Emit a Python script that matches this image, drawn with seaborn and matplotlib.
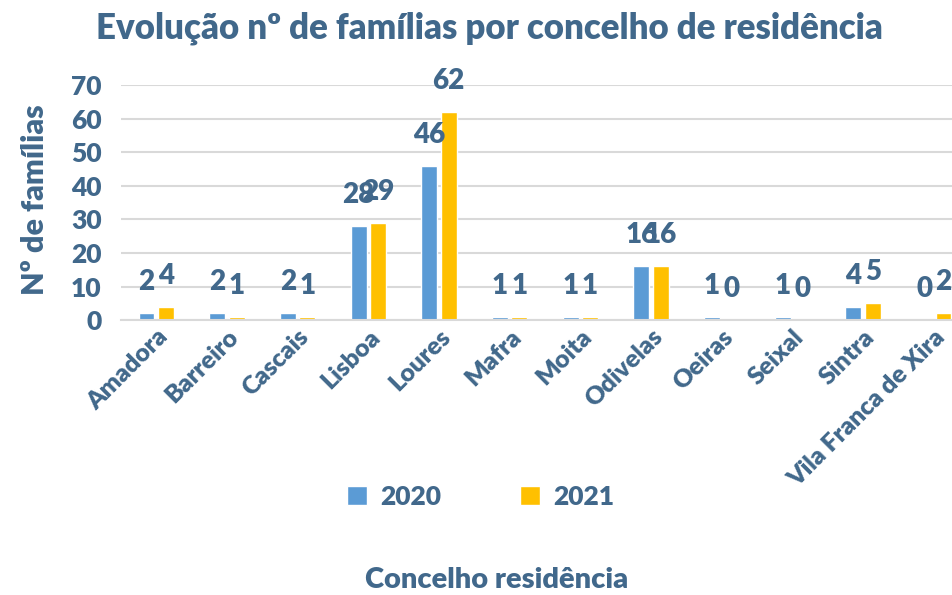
import pandas as pd
import seaborn as sns
import matplotlib.pyplot as plt

# Values
concelhos = ["Amadora", "Barreiro", "Cascais", "Lisboa", "Loures", "Mafra",
             "Moita", "Odivelas", "Oeiras", "Seixal", "Sintra", "Vila Franca de Xira"]
familias_2020 = [2, 2, 2, 28, 46, 1, 1, 16, 1, 1, 4, 0]
familias_2021 = [4, 1, 1, 29, 62, 1, 1, 16, 0, 0, 5, 2]
anos = ["2020", "2021"]

df = pd.DataFrame({
    "concelho": concelhos * 2,
    "ano": [anos[0]] * len(concelhos) + [anos[1]] * len(concelhos),
    "familias": familias_2020 + familias_2021,
})

text_col = "#41688B"
wt = "heavy"
sns.set_style("white")
plt.rcParams["font.family"] = ["Lato", "DejaVu Sans"]
plt.rcParams["font.weight"] = wt

fig = plt.figure(figsize=(9.52, 5.95), dpi=100)
ax = fig.add_axes([0.127, 0.462, 0.891, 0.395])

sns.barplot(data=df, x="concelho", y="familias", hue="ano",
            palette=["#5B9BD5", "#FFC000"], width=0.55, gap=0.18,
            saturation=1, ax=ax, legend=True)

for cont in ax.containers:
    ax.bar_label(cont, padding=13, fontsize=20, fontweight=wt, color=text_col)

ax.set_ylim(0, 70)
ax.set_yticks(range(0, 71, 10))
ax.yaxis.grid(True, color="#D9D9D9", linewidth=1.5)
ax.set_axisbelow(True)
for s in ["top", "right", "left"]:
    ax.spines[s].set_visible(False)
ax.spines["bottom"].set_color("#D9D9D9")
ax.spines["bottom"].set_linewidth(1.5)
ax.tick_params(axis="y", labelsize=19, labelcolor=text_col, length=0, pad=14)
ax.tick_params(axis="x", labelsize=18, labelcolor=text_col, length=0, pad=4)
plt.setp(ax.get_xticklabels(), rotation=45, ha="right", rotation_mode="anchor",
         fontweight=wt)
plt.setp(ax.get_yticklabels(), fontweight=wt)
ax.set_xlabel("")
ax.set_ylabel("")

ax.get_legend().remove()
handles, labels = ax.get_legend_handles_labels()
leg = fig.legend(handles, labels, loc="center", bbox_to_anchor=(0.505, 0.165),
                 ncol=2, frameon=False, columnspacing=3.0, handlelength=0.75,
                 handleheight=0.75, handletextpad=0.5,
                 prop={"size": 19, "weight": wt})
for t in leg.get_texts():
    t.set_color(text_col)

fig.text(0.514, 0.953, "Evolução nº de famílias por concelho de residência",
         ha="center", va="center", fontsize=25, fontweight=wt, color=text_col)
fig.text(0.037, 0.664, "Nº de famílias", rotation=90, ha="center", va="center",
         fontsize=22, fontweight=wt, color=text_col)
fig.text(0.522, 0.025, "Concelho residência", ha="center", va="center",
         fontsize=21, fontweight=wt, color=text_col)

fig.savefig("out.png", dpi=100)
